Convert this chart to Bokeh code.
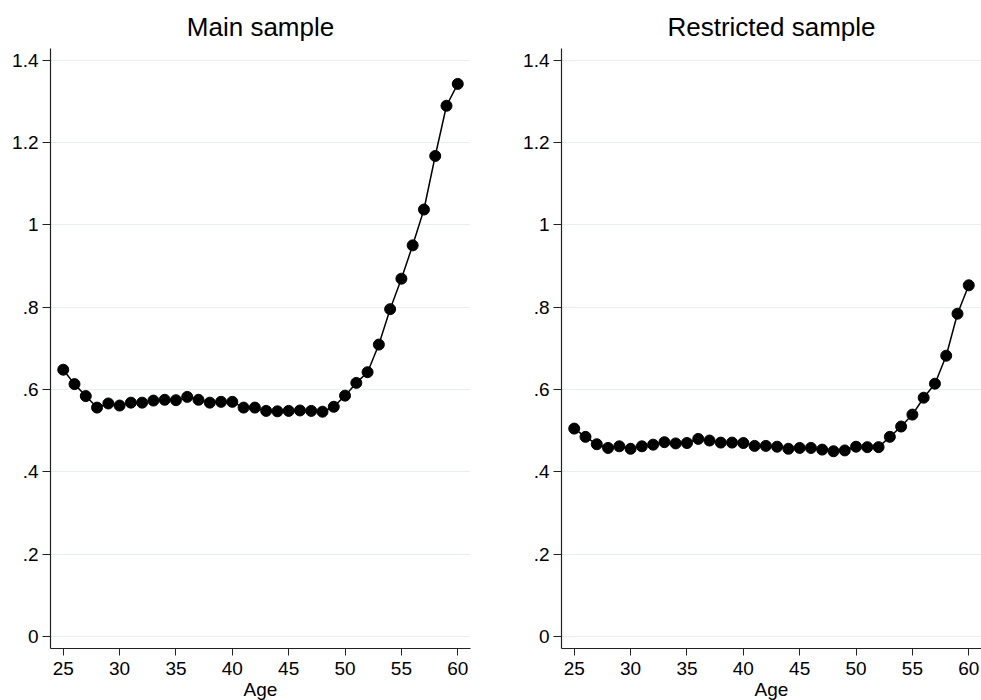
from bokeh.plotting import figure
from bokeh.layouts import row
from bokeh.models import FixedTicker, Range1d
from bokeh.embed import file_html
from bokeh.resources import INLINE

ages = list(range(25, 61))
main_sample = [0.648, 0.613, 0.584, 0.556, 0.566, 0.561, 0.568, 0.568, 0.573, 0.575,
               0.574, 0.582, 0.575, 0.568, 0.570, 0.570, 0.556, 0.556, 0.548, 0.547,
               0.548, 0.549, 0.548, 0.546, 0.558, 0.585, 0.616, 0.642, 0.709, 0.795,
               0.869, 0.950, 1.037, 1.167, 1.289, 1.342]
restricted_sample = [0.505, 0.485, 0.467, 0.458, 0.462, 0.456, 0.462, 0.466, 0.472, 0.469,
                     0.470, 0.480, 0.476, 0.471, 0.471, 0.470, 0.463, 0.463, 0.461, 0.456,
                     0.458, 0.458, 0.454, 0.450, 0.452, 0.461, 0.460, 0.460, 0.485, 0.510,
                     0.539, 0.580, 0.614, 0.682, 0.784, 0.853]
titles = ["Main sample", "Restricted sample"]
x_ticks = [25, 30, 35, 40, 45, 50, 55, 60]
y_ticks = [0, 0.2, 0.4, 0.6, 0.8, 1.0, 1.2, 1.4]
y_tick_labels = ["0", ".2", ".4", ".6", ".8", "1", "1.2", "1.4"]
x_label = "Age"

FONT = "Liberation Sans"


def make_panel(title, values, border_left, border_right):
    p = figure(frame_width=420, frame_height=600,
               min_border_left=border_left, min_border_right=border_right,
               min_border_top=48, min_border_bottom=52,
               output_backend="svg", toolbar_location=None,
               x_range=Range1d(23.87, 61.13), y_range=Range1d(-0.029, 1.428),
               title=title)
    p.title.text_font = FONT
    p.title.text_font_size = "26px"
    p.title.text_font_style = "normal"
    p.title.align = "center"
    p.title.text_color = "black"
    p.title.standoff = 13
    p.outline_line_color = None
    p.background_fill_color = "white"
    p.border_fill_color = "white"

    p.xgrid.visible = False
    p.ygrid.grid_line_color = "#e6eeef"
    p.ygrid.grid_line_width = 1
    p.ygrid.ticker = FixedTicker(ticks=y_ticks)

    p.xaxis.ticker = FixedTicker(ticks=x_ticks)
    p.yaxis.ticker = FixedTicker(ticks=y_ticks)
    p.yaxis.major_label_overrides = {t: l for t, l in zip(y_ticks, y_tick_labels)}
    p.xaxis.axis_label = x_label
    for ax in (p.xaxis, p.yaxis):
        ax.axis_line_color = "#222222"
        ax.axis_line_width = 1.2
        ax.major_tick_line_color = "#222222"
        ax.major_tick_in = 0
        ax.minor_tick_line_color = None
        ax.major_label_text_font = FONT
        ax.major_label_text_font_size = "19px"
        ax.major_label_text_color = "black"
        ax.axis_label_text_font = FONT
        ax.axis_label_text_font_size = "19px"
        ax.axis_label_text_font_style = "normal"
        ax.axis_label_text_color = "black"
    p.xaxis.major_tick_out = 7
    p.xaxis.major_label_standoff = 6
    p.xaxis.axis_label_standoff = 1
    p.yaxis.major_tick_out = 8
    p.yaxis.major_label_standoff = 4

    p.line(ages, values, line_color="black", line_width=1.5)
    p.scatter(ages, values, size=11, fill_color="black", line_color="black")
    return p


p1 = make_panel(titles[0], main_sample, 50, 20)
p2 = make_panel(titles[1], restricted_sample, 71, 0)
layout = row(p1, p2)

open("out.html", "w").write(file_html(layout, INLINE))
